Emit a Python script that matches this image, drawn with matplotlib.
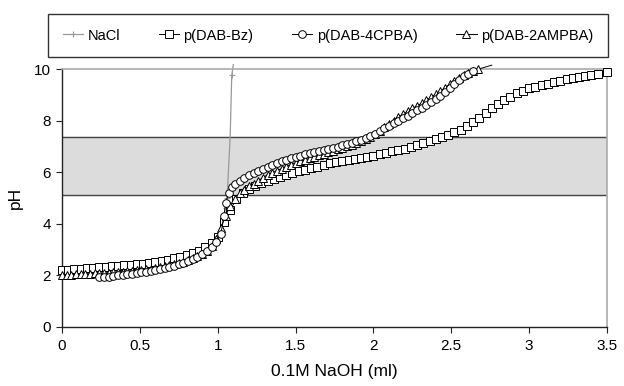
import numpy as np
import matplotlib.pyplot as plt

plt.rcParams['font.family'] = ['Liberation Sans', 'DejaVu Sans']

# NaCl blank (gray line, mostly hidden behind the polymer curves)
nacl_x = [0.0, 0.2, 0.4, 0.6, 0.8, 0.9, 0.96, 1.00, 1.03, 1.05, 1.06, 1.08, 1.09, 1.10]
nacl_y = [2.0, 2.06, 2.14, 2.29, 2.55, 2.80, 3.10, 3.50, 4.10, 4.60, 5.00, 7.40, 9.77, 10.18]

# p(DAB-Bz)
bz_x = [0.00, 0.04, 0.08, 0.12, 0.16, 0.20, 0.24, 0.28, 0.32, 0.36,
        0.40, 0.44, 0.48, 0.52, 0.56, 0.60, 0.64, 0.68, 0.72, 0.76,
        0.80, 0.84, 0.88, 0.92, 0.96, 1.00, 1.04, 1.08, 1.12, 1.16,
        1.20, 1.24, 1.28, 1.32, 1.36, 1.40, 1.44, 1.48, 1.52, 1.56,
        1.60, 1.64, 1.68, 1.72, 1.76, 1.80, 1.84, 1.88, 1.92, 1.96,
        2.00, 2.04, 2.08, 2.12, 2.16, 2.20, 2.24, 2.28, 2.32, 2.36,
        2.40, 2.44, 2.48, 2.52, 2.56, 2.60, 2.64, 2.68, 2.72, 2.76,
        2.80, 2.84, 2.88, 2.92, 2.96, 3.00, 3.04, 3.08, 3.12, 3.16,
        3.20, 3.24, 3.28, 3.32, 3.36, 3.40, 3.44, 3.50]
bz_y = [2.20, 2.22, 2.24, 2.26, 2.28, 2.30, 2.32, 2.33, 2.35, 2.37,
        2.38, 2.40, 2.42, 2.45, 2.48, 2.52, 2.56, 2.60, 2.65, 2.71,
        2.78, 2.86, 2.95, 3.08, 3.25, 3.50, 4.05, 4.55, 4.95, 5.20,
        5.35, 5.47, 5.58, 5.67, 5.75, 5.83, 5.90, 5.97, 6.03, 6.09,
        6.15, 6.22, 6.29, 6.36, 6.41, 6.45, 6.49, 6.53, 6.57, 6.61,
        6.65, 6.70, 6.75, 6.81, 6.86, 6.92, 6.98, 7.05, 7.13, 7.22,
        7.29, 7.37, 7.46, 7.55, 7.66, 7.80, 7.96, 8.12, 8.30, 8.48,
        8.65, 8.80, 8.94, 9.06, 9.17, 9.26, 9.33, 9.39, 9.44, 9.50,
        9.56, 9.61, 9.66, 9.70, 9.75, 9.79, 9.83, 9.90]

# p(DAB-4CPBA)
cp_x = [0.24, 0.27, 0.30, 0.33, 0.36, 0.39, 0.42, 0.45, 0.48, 0.51,
        0.54, 0.57, 0.60, 0.63, 0.66, 0.69, 0.72, 0.75, 0.78, 0.81,
        0.84, 0.87, 0.90, 0.93, 0.96, 0.99, 1.02, 1.04, 1.05, 1.07,
        1.09, 1.11, 1.14, 1.17, 1.20, 1.23, 1.26, 1.29, 1.32, 1.35,
        1.38, 1.41, 1.44, 1.47, 1.50, 1.53, 1.56, 1.59, 1.62, 1.65,
        1.68, 1.71, 1.74, 1.77, 1.80, 1.83, 1.86, 1.89, 1.92, 1.95,
        1.98, 2.01, 2.04, 2.07, 2.10, 2.13, 2.16, 2.19, 2.22, 2.25,
        2.28, 2.31, 2.34, 2.37, 2.40, 2.43, 2.46, 2.49, 2.52, 2.55,
        2.58, 2.61, 2.64]
cp_y = [1.92, 1.93, 1.95, 1.97, 1.99, 2.01, 2.03, 2.06, 2.08, 2.11,
        2.14, 2.17, 2.20, 2.24, 2.28, 2.32, 2.37, 2.42, 2.48, 2.55,
        2.63, 2.72, 2.83, 2.96, 3.10, 3.30, 3.60, 4.30, 4.80, 5.20,
        5.42, 5.55, 5.66, 5.77, 5.88, 5.98, 6.06, 6.14, 6.22, 6.29,
        6.36, 6.42, 6.48, 6.54, 6.59, 6.64, 6.69, 6.73, 6.77, 6.82,
        6.86, 6.90, 6.95, 7.00, 7.05, 7.10, 7.15, 7.21, 7.27, 7.34,
        7.42, 7.50, 7.60, 7.70, 7.80, 7.90, 8.00, 8.10, 8.20, 8.30,
        8.40, 8.51, 8.62, 8.73, 8.85, 8.98, 9.12, 9.27, 9.43, 9.58,
        9.72, 9.83, 9.92]

# p(DAB-2AMPBA)
am_x = [0.00, 0.03, 0.06, 0.09, 0.12, 0.15, 0.18, 0.21, 0.24, 0.27,
        0.30, 0.33, 0.36, 0.39, 0.42, 0.45, 0.48, 0.51, 0.54, 0.57,
        0.60, 0.63, 0.66, 0.69, 0.72, 0.75, 0.78, 0.81, 0.84, 0.87,
        0.90, 0.93, 0.96, 0.99, 1.02, 1.05, 1.08, 1.11, 1.14, 1.17,
        1.20, 1.23, 1.26, 1.29, 1.32, 1.35, 1.38, 1.41, 1.44, 1.47,
        1.50, 1.53, 1.56, 1.59, 1.62, 1.65, 1.68, 1.71, 1.74, 1.77,
        1.80, 1.83, 1.86, 1.89, 1.92, 1.95, 1.98, 2.01, 2.04, 2.07,
        2.10, 2.13, 2.16, 2.19, 2.22, 2.25, 2.28, 2.31, 2.34, 2.37,
        2.40, 2.43, 2.46, 2.49, 2.52, 2.55, 2.58, 2.61, 2.64, 2.67]
am_y = [2.00, 2.01, 2.02, 2.03, 2.04, 2.05, 2.06, 2.07, 2.07, 2.08,
        2.09, 2.11, 2.12, 2.14, 2.15, 2.17, 2.19, 2.21, 2.23, 2.26,
        2.29, 2.32, 2.35, 2.39, 2.43, 2.48, 2.53, 2.59, 2.66, 2.73,
        2.82, 2.95, 3.15, 3.42, 3.85, 4.30, 4.70, 4.95, 5.18, 5.33,
        5.45, 5.55, 5.67, 5.79, 5.90, 5.98, 6.06, 6.14, 6.22, 6.30,
        6.36, 6.42, 6.48, 6.54, 6.60, 6.66, 6.71, 6.77, 6.83, 6.89,
        6.95, 7.01, 7.07, 7.13, 7.20, 7.28, 7.38, 7.50, 7.62, 7.76,
        7.88, 8.01, 8.13, 8.26, 8.37, 8.48, 8.58, 8.68, 8.79, 8.91,
        9.03, 9.15, 9.28, 9.42, 9.56, 9.68, 9.78, 9.86, 9.93, 10.00]
am_tail_x = [2.67, 2.76]
am_tail_y = [10.00, 10.16]

band_low, band_high = 5.1, 7.37

fig = plt.figure(figsize=(6.24, 3.86), dpi=100)
ax = fig.add_axes([0.0994, 0.1536, 0.8734, 0.6669])

ax.axhspan(band_low, band_high, color='#dcdcdc', zorder=0)
ax.axhline(band_low, color='#444444', lw=1.0, zorder=1)
ax.axhline(band_high, color='#444444', lw=1.0, zorder=1)

mk = dict(mfc='white', mec='black', mew=0.7, ms=5.5, lw=0.7, color='black', clip_on=False)
# only the marker near the top of the NaCl jump is visible in the original
nacl_marks = [i for i in range(len(nacl_x)) if i not in (len(nacl_x) - 3, len(nacl_x) - 1)]
ax.plot(nacl_x, nacl_y, color='#999999', lw=0.9, marker='+', ms=4, mew=0.8,
        markevery=nacl_marks, label='NaCl', clip_on=False, zorder=2)
ax.plot(bz_x, bz_y, marker='s', label='p(DAB-Bz)', zorder=3, **mk)
ax.plot(am_tail_x, am_tail_y, color='black', lw=0.7, clip_on=False, zorder=3)
ax.plot(am_x, am_y, marker='^', label='p(DAB-2AMPBA)', zorder=3, **mk)
ax.plot(cp_x, cp_y, marker='o', label='p(DAB-4CPBA)', zorder=4, **mk)

ax.set_xlim(0, 3.5)
ax.set_ylim(0, 10)
ax.set_xticks([0, 0.5, 1, 1.5, 2, 2.5, 3, 3.5])
ax.set_xticklabels(['0', '0.5', '1', '1.5', '2', '2.5', '3', '3.5'])
ax.set_yticks([0, 2, 4, 6, 8, 10])
ax.tick_params(labelsize=11, length=4, width=0.8, direction='out', colors='#222222', pad=4)
ax.tick_params(axis='x', pad=5)
ax.tick_params(labelcolor='black')
for s in ['top', 'right']:
    ax.spines[s].set_color('#aaaaaa')
    ax.spines[s].set_linewidth(1.2)
for s in ['left', 'bottom']:
    ax.spines[s].set_color('#222222')
    ax.spines[s].set_linewidth(1.0)

ax.set_xlabel('0.1M NaOH (ml)', fontsize=12.5, labelpad=8)
ax.set_ylabel('pH', fontsize=12.5, labelpad=8)

h, l = ax.get_legend_handles_labels()
order = [0, 1, 3, 2]
leg = fig.legend([h[i] for i in order], [l[i] for i in order], ncol=4,
                 loc='lower left', bbox_to_anchor=(0.077, 0.852, 0.897, 0.117),
                 mode='expand', fontsize=10.5, frameon=True, fancybox=False,
                 handlelength=1.4, handletextpad=0.3, borderaxespad=0,
                 borderpad=1.0, columnspacing=1.0)
leg.get_frame().set_edgecolor('black')
leg.get_frame().set_linewidth(1.0)

fig.savefig('out.png', dpi=100)
